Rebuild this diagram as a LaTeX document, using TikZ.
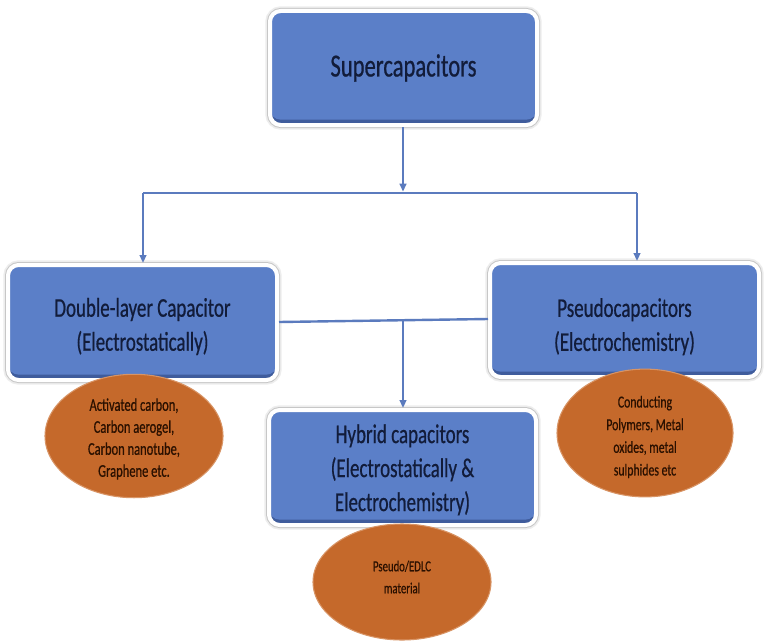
\documentclass[tikz,border=0pt]{standalone}
\usepackage{fontspec}
\setmainfont[FakeStretch=0.7,FakeBold=0.6]{Carlito}
\usetikzlibrary{arrows.meta,shapes.geometric}
\definecolor{boxblue}{HTML}{5B7FC8}
\definecolor{boxdark}{HTML}{3F5C9C}
\definecolor{boxtext}{HTML}{121C3A}
\definecolor{ovalfill}{HTML}{C5692B}
\definecolor{ovalrim}{HTML}{D89465}
\definecolor{ovaltext}{HTML}{2A1000}
\definecolor{conncol}{HTML}{5B7BBE}
\newcommand\addtop[2]{\raisebox{0pt}[\dimexpr\height+#1\relax]{#2}}
\newcommand\addbot[2]{\raisebox{0pt}[\height][\dimexpr\depth+#1\relax]{#2}}
\tikzset{
  box/.style={rectangle, rounded corners=8pt, inner sep=0pt, fill=boxdark, draw=white, line width=3pt,
    preaction={draw=black!7, line width=7pt},
    preaction={draw=black!22, line width=4.5pt},
    path picture={\fill[boxblue, rounded corners=8pt] ([yshift=4pt]path picture bounding box.south west) rectangle (path picture bounding box.north east);},
    text=boxtext, font=\fontsize{20.3}{25.5}\selectfont, align=center},
  oval/.style={ellipse, inner sep=0pt, fill=ovalfill, draw=ovalrim, line width=0.8pt,
    text=ovaltext, align=center},
  conn/.style={draw=conncol, line width=1.8pt},
  arr/.style={draw=conncol, line width=1.5pt, -{Triangle[length=6pt,width=5pt]}},
}
\begin{document}
\begin{tikzpicture}[x=0.75pt,y=-0.75pt]
\useasboundingbox[fill=white] (0,0) rectangle (767,642);
% boxes
\node[box, minimum width=200.25pt, minimum height=85.5pt, font=\fontsize{24.2}{28}\selectfont] (top) at (403.5,68) {Supercapacitors};
\node[box, minimum width=201.75pt, minimum height=86.25pt] (left) at (142.5,322.5) {\addtop{6pt}{Double-layer Capacitor}\\(Electrostatically)};
\node[box, minimum width=201.75pt, minimum height=85.5pt] (right) at (624.5,320) {\addtop{10pt}{Pseudocapacitors}\\(Electrochemistry)};
\node[box, minimum width=200.25pt, minimum height=86.25pt] (hyb) at (402.5,467.5) {\addtop{3.5pt}{Hybrid capacitors}\\(Electrostatically \&\\Electrochemistry)};
% ovals
\node[oval, minimum width=133.5pt, minimum height=87pt, font=\fontsize{13.4}{16.5}\selectfont] (m1) at (134,436) {\addtop{4.5pt}{Activated carbon,}\\Carbon aerogel,\\Carbon nanotube,\\Graphene etc.};
\node[oval, minimum width=132pt, minimum height=85.5pt, font=\fontsize{12.6}{17}\selectfont] (m2) at (645,433) {\addtop{6pt}{Conducting}\\Polymers, Metal\\oxides, metal\\sulphides etc};
\node[oval, minimum width=133.5pt, minimum height=87pt, font=\fontsize{11.5}{16.5}\selectfont] (m3) at (402,582) {Pseudo/EDLC\\\addbot{7.5pt}{material}};
% connectors
\coordinate (j) at (403,193);
\coordinate (hl) at (143,193);
\coordinate (hr) at (637,193);
\coordinate (mj) at (403,321);
\draw[arr] (top.south -| j) -- ([yshift=1pt]j);
\draw[conn] (hl) -- (hr);
\draw[arr] (hl) -- (hl |- left.north);
\draw[arr] (hr) -- (hr |- right.north);
\draw[conn] (left.east |- 0,322) -- (right.west |- 0,319);
\draw[arr] (mj) -- (mj |- hyb.north);
\end{tikzpicture}
\end{document}
